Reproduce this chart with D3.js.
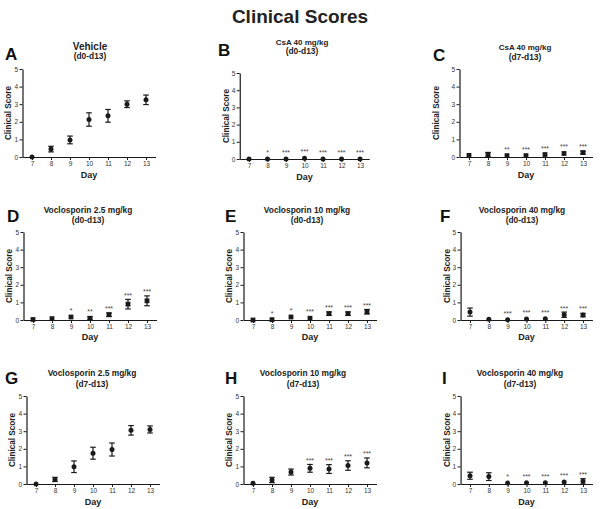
<!DOCTYPE html>
<html>
<head>
<meta charset="utf-8">
<script src="https://cdn.jsdelivr.net/npm/d3@7/dist/d3.min.js"></script>
<style>
  html, body { margin: 0; padding: 0; background: #fff; }
  svg { display: block; font-family: "Liberation Sans", Arial, sans-serif; }
</style>
</head>
<body>
<svg id="chart" width="600" height="509"></svg>
<script>
// ---------- DATA ----------
const mainTitle = "Clinical Scores";
const days = [7, 8, 9, 10, 11, 12, 13];
const yTicks = [0, 1, 2, 3, 4, 5];
const xLabel = "Day";
const yLabel = "Clinical Score";

const panelLetters = ["A", "B", "C", "D", "E", "F", "G", "H", "I"];
const panelTitles = [
  ["Vehicle", "(d0-d13)"],
  ["CsA 40 mg/kg", "(d0-d13)"],
  ["CsA 40 mg/kg", "(d7-d13)"],
  ["Voclosporin 2.5 mg/kg", "(d0-d13)"],
  ["Voclosporin 10 mg/kg", "(d0-d13)"],
  ["Voclosporin 40 mg/kg", "(d0-d13)"],
  ["Voclosporin 2.5 mg/kg", "(d7-d13)"],
  ["Voclosporin 10 mg/kg", "(d7-d13)"],
  ["Voclosporin 40 mg/kg", "(d7-d13)"]
];

const meanA = [0, 0.45, 0.97, 2.13, 2.34, 3.0, 3.25];
const semA  = [0, 0.16, 0.22, 0.38, 0.36, 0.19, 0.27];
const starsA = ["", "", "", "", "", "", ""];

const meanB = [0, 0, 0, 0.04, 0, 0, 0];
const semB  = [0, 0, 0, 0.03, 0, 0, 0];
const starsB = ["", "*", "***", "***", "***", "***", "***"];

const meanC = [0.09, 0.12, 0.08, 0.08, 0.14, 0.2, 0.25];
const semC  = [0.05, 0.14, 0.05, 0.05, 0.06, 0.07, 0.08];
const starsC = ["", "", "**", "***", "***", "***", "***"];

const meanD = [0.03, 0.08, 0.17, 0.1, 0.3, 0.9, 1.09];
const semD  = [0.03, 0.05, 0.07, 0.08, 0.1, 0.27, 0.28];
const starsD = ["", "", "*", "**", "***", "***", "***"];

const meanE = [0, 0.02, 0.17, 0.1, 0.36, 0.36, 0.47];
const semE  = [0, 0.02, 0.05, 0.07, 0.1, 0.1, 0.13];
const starsE = ["", "*", "*", "***", "***", "***", "***"];

const meanF = [0.45, 0.04, 0.02, 0.06, 0.07, 0.3, 0.28];
const semF  = [0.23, 0.03, 0.02, 0.04, 0.05, 0.15, 0.1];
const starsF = ["", "", "***", "***", "***", "***", "***"];

const meanG = [0, 0.26, 0.98, 1.75, 1.96, 3.05, 3.1];
const semG  = [0, 0.12, 0.33, 0.34, 0.37, 0.27, 0.2];
const starsG = ["", "", "", "", "", "", ""];

const meanH = [0.04, 0.23, 0.68, 0.89, 0.85, 1.05, 1.2];
const semH  = [0.04, 0.15, 0.17, 0.22, 0.25, 0.27, 0.28];
const starsH = ["", "", "", "***", "***", "***", "***"];

const meanI = [0.47, 0.42, 0.05, 0.07, 0.07, 0.12, 0.15];
const semI  = [0.2, 0.22, 0.04, 0.05, 0.05, 0.06, 0.15];
const starsI = ["", "", "*", "***", "***", "***", "***"];

const panelMeans = [meanA, meanB, meanC, meanD, meanE, meanF, meanG, meanH, meanI];
const panelSems  = [semA, semB, semC, semD, semE, semF, semG, semH, semI];
const panelStars = [starsA, starsB, starsC, starsD, starsE, starsF, starsG, starsH, starsI];

// ---------- LAYOUT (pixels) ----------
const layout = [
  {x7: 32,  x13: 146, y0: 157, y5: 69,  tcx: 90,  t1: 50,  t2: 59,  lx: 5,   lb: 60,  ylx: 8,   day: 178, marker: "circle", tsize: 10},
  {x7: 249, x13: 360, y0: 159, y5: 73,  tcx: 302, t1: 45,  t2: 54,  lx: 218, lb: 56,  ylx: 226, day: 180, marker: "circle", tsize: 8},
  {x7: 469, x13: 583, y0: 157, y5: 69,  tcx: 525, t1: 50,  t2: 60,  lx: 433, lb: 61,  ylx: 436, day: 178, marker: "square", tsize: 8},
  {x7: 33,  x13: 147, y0: 320, y5: 232, tcx: 88,  t1: 213, t2: 223, lx: 7,   lb: 222, ylx: 9,   day: 340, marker: "square", tsize: 8.4},
  {x7: 253, x13: 367, y0: 320, y5: 232, tcx: 307, t1: 213, t2: 223, lx: 225, lb: 222, ylx: 229, day: 340, marker: "square", tsize: 8.4},
  {x7: 470, x13: 583, y0: 320, y5: 232, tcx: 522, t1: 213, t2: 223, lx: 440, lb: 222, ylx: 447, day: 340, marker: "circle", tsize: 8.4},
  {x7: 36,  x13: 150, y0: 484, y5: 396, tcx: 92,  t1: 376, t2: 387, lx: 5,   lb: 384, ylx: 12,  day: 505, marker: "circle", tsize: 8.4},
  {x7: 253, x13: 367, y0: 484, y5: 396, tcx: 303, t1: 376, t2: 387, lx: 225, lb: 384, ylx: 229, day: 505, marker: "circle", tsize: 8.4},
  {x7: 470, x13: 583, y0: 484, y5: 396, tcx: 520, t1: 376, t2: 387, lx: 442, lb: 384, ylx: 447, day: 505, marker: "circle", tsize: 8.4}
];

const svg = d3.select("#chart");
svg.append("rect").attr("width", 600).attr("height", 509).attr("fill", "#fff");

svg.append("text")
  .attr("x", 300).attr("y", 23)
  .attr("text-anchor", "middle")
  .attr("font-size", 19).attr("font-weight", "bold").attr("fill", "#222")
  .text(mainTitle);

const ink = "#1a1a1a";
const fmt = d3.format("d");

panelLetters.forEach((letter, i) => {
  const L = layout[i];
  const unit = (L.x13 - L.x7) / (days[days.length - 1] - days[0]);
  const x = d3.scaleLinear().domain([6.5, 13.5])
    .range([L.x7 - 0.5 * unit, L.x13 + 0.5 * unit]);
  const y = d3.scaleLinear().domain([0, 5]).range([L.y0, L.y5]);
  const g = svg.append("g");

  // letter
  g.append("text").attr("x", L.lx).attr("y", L.lb)
    .attr("font-size", 17).attr("font-weight", "bold").attr("fill", "#111")
    .text(letter);

  // titles
  g.append("text").attr("x", L.tcx).attr("y", L.t1).attr("text-anchor", "middle")
    .attr("font-size", L.tsize).attr("font-weight", "bold").attr("fill", "#222")
    .text(panelTitles[i][0]);
  g.append("text").attr("x", L.tcx).attr("y", L.t2).attr("text-anchor", "middle")
    .attr("font-size", 8.4).attr("font-weight", "bold").attr("fill", "#222")
    .text(panelTitles[i][1]);

  // axes
  const xAxis = d3.axisBottom(x).tickValues(days).tickFormat(fmt).tickSize(3).tickPadding(1.5).tickSizeOuter(0);
  const yAxis = d3.axisLeft(y).tickValues(yTicks).tickFormat(fmt).tickSize(3).tickPadding(1.5).tickSizeOuter(0);
  const gx = g.append("g").attr("transform", `translate(0,${L.y0})`).call(xAxis);
  const gy = g.append("g").attr("transform", `translate(${x(6.5)},0)`).call(yAxis);
  [gx, gy].forEach(a => {
    a.select(".domain").attr("stroke", ink).attr("stroke-width", 1.2);
    a.selectAll(".tick line").attr("stroke", ink).attr("stroke-width", 1);
    a.selectAll(".tick text").attr("font-size", 6.5).attr("fill", "#333")
      .attr("font-family", "'Liberation Sans', Arial, sans-serif");
  });

  // axis labels
  g.append("text").attr("x", (x(6.5) + x(13.5)) / 2).attr("y", L.day)
    .attr("text-anchor", "middle").attr("font-size", 9).attr("font-weight", "bold")
    .attr("fill", "#222").text(xLabel);
  g.append("text")
    .attr("transform", `translate(${L.ylx},${(L.y0 + L.y5) / 2}) rotate(-90)`)
    .attr("text-anchor", "middle").attr("dominant-baseline", "central")
    .attr("font-size", 8.2).attr("font-weight", "bold").attr("fill", "#222")
    .text(yLabel);

  const pts = days.map((d, j) => ({d, m: panelMeans[i][j], s: panelSems[i][j], star: panelStars[i][j]}));

  // error bars
  const eb = g.append("g").attr("stroke", ink).attr("stroke-width", 1.2).attr("fill", "none");
  pts.filter(p => p.s > 0).forEach(p => {
    const cx = x(p.d), top = y(p.m + p.s), bot = y(Math.max(0, p.m - p.s));
    eb.append("line").attr("x1", cx).attr("x2", cx).attr("y1", top).attr("y2", bot);
    if (p.s >= 0.08) {
      eb.append("line").attr("x1", cx - 2.8).attr("x2", cx + 2.8).attr("y1", top).attr("y2", top);
      eb.append("line").attr("x1", cx - 2.8).attr("x2", cx + 2.8).attr("y1", bot).attr("y2", bot);
    }
  });

  // markers
  if (L.marker === "square") {
    g.selectAll("rect.m").data(pts).enter().append("rect")
      .attr("x", p => x(p.d) - 2.4).attr("y", p => y(p.m) - 2.4)
      .attr("width", 4.8).attr("height", 4.8).attr("fill", ink);
  } else {
    g.selectAll("circle.m").data(pts).enter().append("circle")
      .attr("cx", p => x(p.d)).attr("cy", p => y(p.m)).attr("r", 2.5).attr("fill", ink);
  }

  // significance stars
  g.selectAll("text.star").data(pts.filter(p => p.star)).enter().append("text")
    .attr("x", p => x(p.d))
    .attr("y", p => Math.min(y(p.m + p.s), y(p.m) - 2.5) - 1.5)
    .attr("text-anchor", "middle").attr("font-size", 7).attr("fill", "#444")
    .text(p => p.star);
});
</script>
</body>
</html>
